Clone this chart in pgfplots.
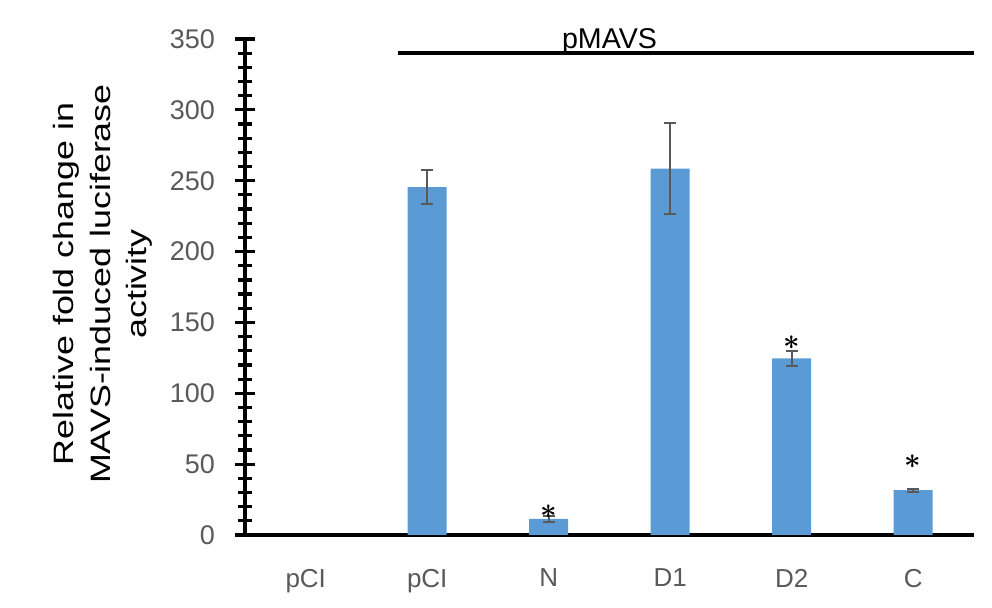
\documentclass[border=0pt]{standalone}
\usepackage{fontspec}
\setmainfont{Liberation Sans}
\usepackage{pgfplots}
\pgfplotsset{compat=1.18}
\definecolor{barblue}{HTML}{5B9BD5}
\definecolor{tickgrey}{HTML}{595959}
\definecolor{errgrey}{HTML}{595959}
\DeclareRobustCommand\sig{{\boldmath$\ast$}}

% first pCI (empty vector) is 0 and draws nothing, so it is left out of the table
\pgfplotstableread{
x  y      err
1  245.5  12
2  11.4   2.3
3  258.5  32
4  124.6  5.3
5  31.6   1
}\luc

\begin{document}
\begin{tikzpicture}
\begin{axis}[
  at={(0,0)}, anchor=south west,
  scale only axis, width=364.5pt, height=248pt,
  xmin=-0.5, xmax=5.5, ymin=0, ymax=350,
  clip=false,
  axis x line*=bottom, axis y line*=left,
  axis line style={-, line width=1.6pt, black},
  x axis line style={shorten <=-5pt},
  xtick={0,...,5},
  xticklabels={pCI, pCI, N, D1, D2, C},
  xtick style={draw=none},
  xticklabel style={font=\fontsize{13}{15}\selectfont, text=tickgrey, yshift=-8.5pt},
  ytick distance=50, minor y tick num=4,
  tick align=center,
  major tick length=10pt, minor tick length=7pt,
  every tick/.append style={line width=1.6pt, black},
  every minor tick/.append style={line width=1.6pt, black},
  yticklabel style={font=\fontsize{13.5}{16}\selectfont, text=tickgrey, xshift=-6.5pt},
  /pgf/number format/assume math mode=true,
  ylabel={\begin{tabular}{@{}c@{}}Relative fold change in\\MAVS-induced luciferase\\activity\end{tabular}},
  ylabel style={font=\fontsize{14}{18.35}\selectfont, inner sep=0pt,
    at={(axis description cs:-0.195,0.506)}, anchor=center, xscale=1.28},
]
\addplot[ybar, bar width=19.5pt, fill=barblue, draw=none,
  error bars/.cd, y dir=both, y explicit,
  error bar style={line width=1pt, errgrey},
  error mark options={rotate=90, mark size=3pt, line width=1pt, errgrey}]
  table[x=x, y=y, y error=err] {\luc};
% bracket over the pMAVS group
\addplot[line width=1.8pt, black] coordinates {(0.757,340) (5.5,340)};
\node[anchor=base, font=\fontsize{14.3}{16}\selectfont] at (axis cs:2.5,343.5) {pMAVS};
% significance marks
\node[font=\fontsize{15}{17}\selectfont, inner sep=0pt] at (axis cs:2,16.4) {\sig};
\node[font=\fontsize{15}{17}\selectfont, inner sep=0pt] at (axis cs:4,135.5) {\sig};
\node[font=\fontsize{15}{17}\selectfont, inner sep=0pt] at (axis cs:5,51.7) {\sig};
\end{axis}
\path (-122.5pt,-36.5pt) rectangle (373.5pt,267.5pt);
\end{tikzpicture}
\end{document}
